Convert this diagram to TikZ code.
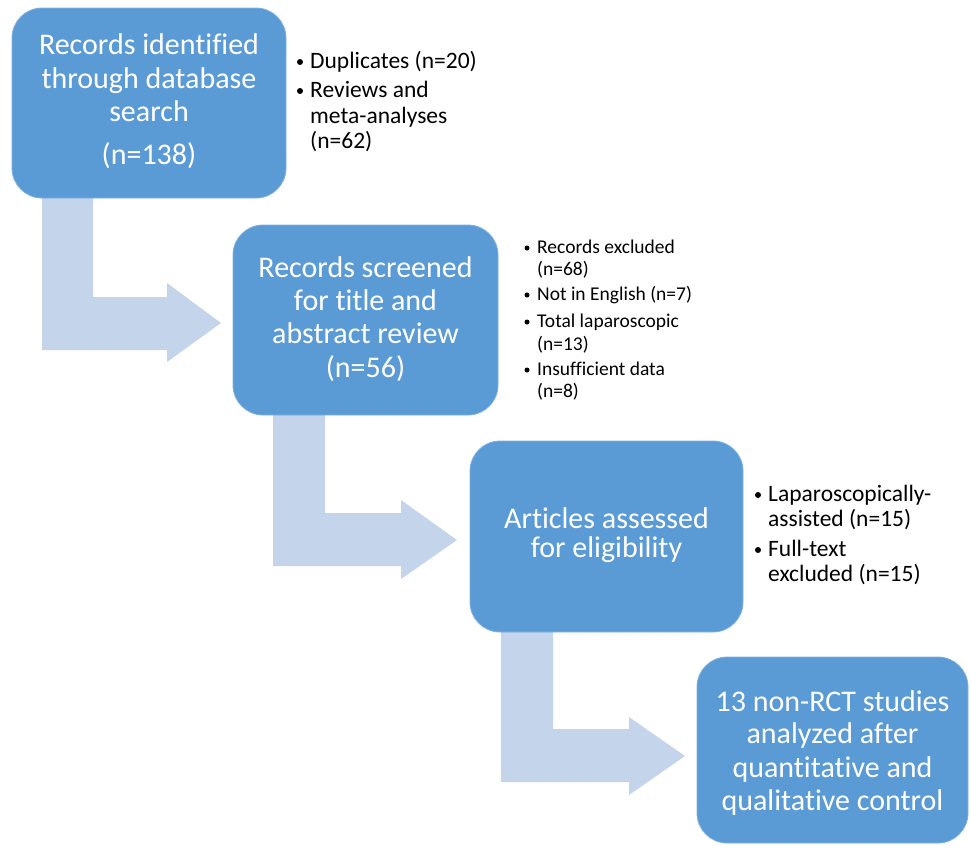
\documentclass[tikz,border=0pt]{standalone}
\usepackage{fontspec}
\setmainfont{Carlito}[Ligatures={NoCommon}]
\definecolor{boxblue}{HTML}{5B9BD5}
\definecolor{boxedge}{HTML}{7DAFE0}
\definecolor{arrowblue}{HTML}{C4D4EA}
\tikzset{
 box/.style={fill=boxblue, draw=boxedge, line width=0.8pt, rounded corners=30pt, inner sep=0pt},
 bigtxt/.style={font=\fontsize{30}{33}\selectfont, text=white, inner sep=0pt, anchor=base},
 side/.style={font=\fontsize{23.5}{26}\selectfont, inner sep=0pt, anchor=base west},
 sidesm/.style={font=\fontsize{19.5}{22}\selectfont, inner sep=0pt, anchor=base west},
 bul/.style={circle, fill=black, inner sep=0pt, minimum size=6pt},
 bulsm/.style={circle, fill=black, inner sep=0pt, minimum size=5pt},
 barrow/.style={fill=arrowblue}
}
\begin{document}
\begin{tikzpicture}[x=1pt,y=-1pt]
\useasboundingbox (0,0) rectangle (971,847);
% block arrows
\fill[barrow] (42,190) -- (42,350) -- (167,350) -- (167,362) -- (221,323) -- (167,283) -- (167,297) -- (93,297) -- (93,190) -- cycle;
\fill[barrow] (273,405) -- (273,566) -- (401,566) -- (401,579) -- (457,540) -- (401,500) -- (401,513) -- (325,513) -- (325,405) -- cycle;
\fill[barrow] (501,620) -- (501,782) -- (629,782) -- (629,795) -- (685,756) -- (629,717) -- (629,729) -- (553,729) -- (553,620) -- cycle;
% boxes
\node[box, minimum width=274pt, minimum height=190pt] (b1) at (149,103) {};
\node[box, minimum width=265pt, minimum height=190pt] (b2) at (365.5,320) {};
\node[box, minimum width=273pt, minimum height=191pt] (b3) at (606.5,536.5) {};
\node[box, minimum width=271pt, minimum height=186pt] (b4) at (832.5,750) {};
% box texts
\node[bigtxt] (t1a) at (149,54) {Records identified};
\node[bigtxt] (t1b) at (149,88) {through database};
\node[bigtxt] (t1c) at (149,121) {search};
\node[bigtxt] (t1d) at (149,164) {(n=138)};
\node[bigtxt] (t2a) at (365.5,277) {Records screened};
\node[bigtxt] (t2b) at (365.5,310) {for title and};
\node[bigtxt] (t2c) at (365.5,343) {abstract review};
\node[bigtxt] (t2d) at (365.5,377) {(n=56)};
\node[bigtxt] (t3a) at (606.5,528) {Articles assessed};
\node[bigtxt] (t3b) at (606.5,557) {for eligibility};
\node[bigtxt] (t4a) at (832.5,711) {13 non-RCT studies};
\node[bigtxt] (t4b) at (832.5,743) {analyzed after};
\node[bigtxt] (t4c) at (832.5,777) {quantitative and};
\node[bigtxt] (t4d) at (832.5,810) {qualitative control};
% side list 1
\node[bul] (s1b1) at (300,62) {};
\node[side] (s1a) at (310,68) {Duplicates (n=20)};
\node[bul] (s1b2) at (300,91) {};
\node[side] (s1b) at (310,97) {Reviews and};
\node[side] (s1c) at (310,123) {meta-analyses};
\node[side] (s1d) at (310,148) {(n=62)};
% side list 2
\node[bulsm] (s2b1) at (527,248) {};
\node[sidesm] (s2a) at (537,253) {Records excluded};
\node[sidesm] (s2a2) at (537,275) {(n=68)};
\node[bulsm] (s2b2) at (527,295) {};
\node[sidesm] (s2b) at (537,300) {Not in English (n=7)};
\node[bulsm] (s2b3) at (527,322) {};
\node[sidesm] (s2c) at (537,327) {Total laparoscopic};
\node[sidesm] (s2c2) at (537,350) {(n=13)};
\node[bulsm] (s2b4) at (527,370) {};
\node[sidesm] (s2d) at (537,375) {Insufficient data};
\node[sidesm] (s2d2) at (537,397) {(n=8)};
% side list 3
\node[bul] (s3b1) at (758,495) {};
\node[side] (s3a) at (768,501) {Laparoscopically-};
\node[side] (s3a2) at (768,526) {assisted (n=15)};
\node[bul] (s3b2) at (758,550) {};
\node[side] (s3b) at (768,556) {Full-text};
\node[side] (s3b3) at (768,581) {excluded (n=15)};
\end{tikzpicture}
\end{document}
